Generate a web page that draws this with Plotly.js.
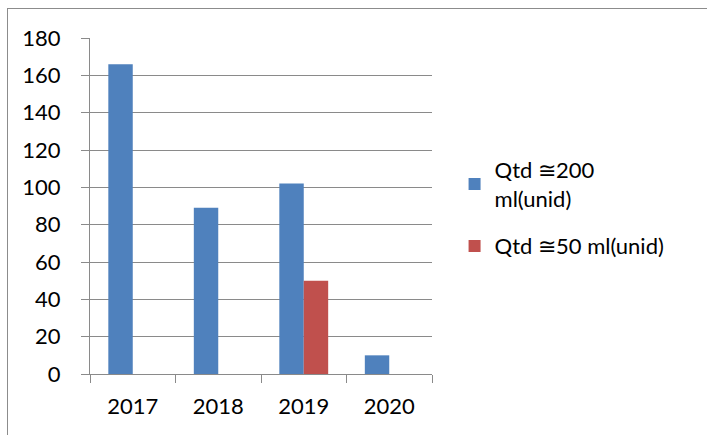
<!DOCTYPE html>
<html><head><meta charset="utf-8">
<script src="https://cdn.plot.ly/plotly-3.0.1.min.js"></script>
<style>
html,body{margin:0;padding:0;background:#fff;}
#frame{position:absolute;left:7px;top:8px;width:760px;height:480px;border:1px solid #8c8c8c;box-sizing:border-box;}
#chart{position:absolute;left:0;top:0;width:707px;height:435px;}
</style>
</head><body>
<div id="frame"></div>
<div id="chart"></div>
<script>
const years = ["2017", "2018", "2019", "2020"];
const qtd200 = [166, 89, 102, 10];
const qtd50 = [null, null, 50, null];
const name200 = "Qtd \u2245200<br>ml(unid)";
const name50 = "Qtd \u224550 ml(unid)";

const font = "Lato, 'Open Sans', sans-serif";
const grid = "#8a8a8a";

const data = [
  {type: "bar", x: years, y: qtd200, name: name200, legendgroup: "g1", marker: {color: "#4F81BD"}},
  {type: "bar", x: years, y: qtd50, name: name50, legendgroup: "g2", marker: {color: "#C0504D"}}
];
const layout = {
  width: 707, height: 435,
  margin: {l: 90, r: 275, t: 38, b: 61, pad: 0},
  paper_bgcolor: "rgba(0,0,0,0)", plot_bgcolor: "rgba(0,0,0,0)",
  barmode: "group", bargap: 0.4286, bargroupgap: 0,
  font: {family: font, size: 22, color: "#000"},
  xaxis: {
    type: "category", tickson: "boundaries", ticks: "outside", ticklen: 8,
    tickcolor: grid, showline: true, linecolor: grid, linewidth: 1,
    showgrid: false, ticklabelstandoff: 13, tickfont: {size: 22}
  },
  yaxis: {
    range: [0, 180], dtick: 20, ticks: "outside", ticklen: 8, tickcolor: grid,
    showline: true, linecolor: grid, linewidth: 1,
    showgrid: true, gridcolor: grid, gridwidth: 1, zeroline: false,
    ticklabelstandoff: 16, tickfont: {size: 22}
  },
  legend: {
    x: 1.066, y: 0.67, xanchor: "left", yanchor: "top",
    font: {size: 22}, tracegroupgap: 16, bgcolor: "rgba(0,0,0,0)"
  },
  showlegend: true
};
Plotly.newPlot("chart", data, layout, {staticPlot: true, displayModeBar: false});
</script>
</body></html>
